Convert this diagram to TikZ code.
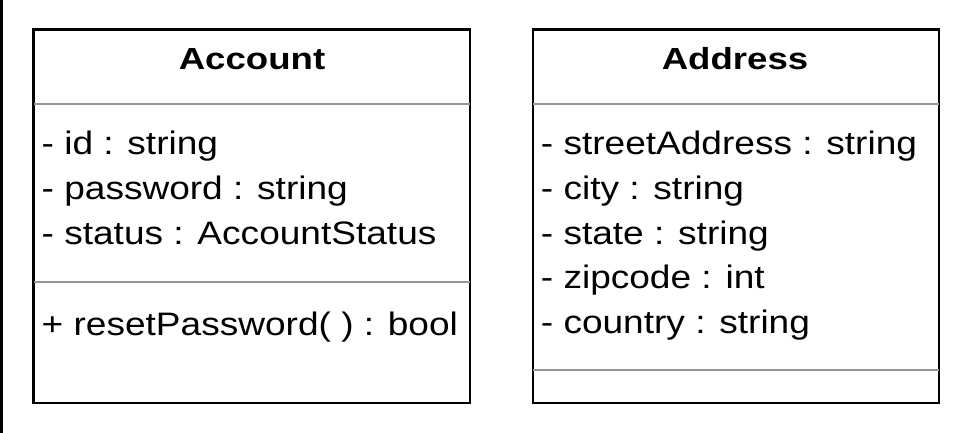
\documentclass[tikz,border=0pt]{standalone}
\usepackage{fontspec}
\newfontfamily\umlfont[FakeStretch=1.14]{Liberation Sans}
\newfontfamily\umltitlefont[FakeStretch=1.2]{Liberation Sans}
\definecolor{divgray}{RGB}{150,150,150}
\begin{document}
\begin{tikzpicture}[x=1pt,y=-1pt,
  classbox/.style={draw=black, line width=2.8pt, fill=white, inner sep=0pt, outer sep=0pt, anchor=north west},
  divider/.style={draw=divgray, line width=2.4pt},
  member/.style={anchor=base west, inner sep=0pt, font=\umlfont\fontsize{32.5}{38}\selectfont},
  classtitle/.style={anchor=base, inner sep=0pt, font=\umltitlefont\bfseries\fontsize{30.5}{36}\selectfont},
  frameline/.style={draw=black, line width=3pt}]
\useasboundingbox (0,0) rectangle (968,433);

% frame edge on the left
\coordinate (ftop) at (1.5,0);
\coordinate (fbot) at (1.5,433);
\draw[frameline] (ftop) -- (fbot);

% class boxes
\node[classbox, minimum width=436.5pt, minimum height=373.7pt] (acc) at (33.5,29.3) {};
\node[classbox, minimum width=406pt, minimum height=373.7pt] (adr) at (533,29.3) {};

% compartment dividers
\coordinate (h1) at (0,104);
\coordinate (h2) at (0,282);
\coordinate (h3) at (0,369.7);
\draw[divider] (acc.west |- h1) -- (acc.east |- h1);
\draw[divider] (acc.west |- h2) -- (acc.east |- h2);
\draw[divider] (adr.west |- h1) -- (adr.east |- h1);
\draw[divider] (adr.west |- h3) -- (adr.east |- h3);

% Account
\node[classtitle] (acctitle) at (252,69.5) {Account};
\node[member] (accid) at (41.5,154.5) {- id : string};
\node[member] (accpw) at (41.5,199.25) {- password : string};
\node[member] (accst) at (41.5,244) {- status : AccountStatus};
\node[member] (accreset) at (41.5,335) {+ resetPassword( ) : bool};

% Address
\node[classtitle] (adrtitle) at (735,69.5) {Address};
\node[member] (adrstreet) at (540.7,154.5) {- streetAddress : string};
\node[member] (adrcity) at (540.7,199.25) {- city : string};
\node[member] (adrstate) at (540.7,244) {- state : string};
\node[member] (adrzip) at (540.7,288.75) {- zipcode : int};
\node[member] (adrcountry) at (540.7,333.5) {- country : string};
\end{tikzpicture}
\end{document}
